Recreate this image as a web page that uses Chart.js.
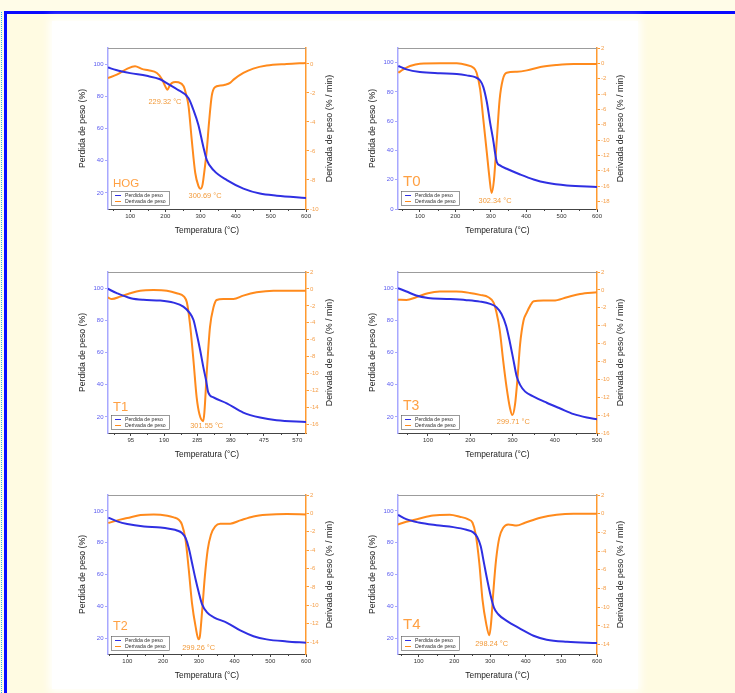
<!DOCTYPE html>
<html>
<head>
<meta charset="utf-8">
<script src="https://cdn.jsdelivr.net/npm/chart.js@4.4.1/dist/chart.umd.min.js"></script>
<style>
  body { margin: 0; width: 735px; height: 693px; overflow: hidden; position: relative; background: #fffce8; }
  .puntos { position: absolute; left: 1px; top: 12px; bottom: 0; border-left: 1.5px dotted #2fb8f0; }
  .marco { position: absolute; left: 4px; top: 11px; width: 800px; height: 720px; border-top: 3px solid #0a0aff; border-left: 3px solid #0a0aff; background: #fffbe2; }
  .hoja { position: absolute; left: 52px; top: 21px; width: 586px; height: 668px; background: #fff; box-shadow: 0 0 8px 3px #fff; }
  .panel { position: absolute; }
  .panel canvas { display: block; }
</style>
</head>
<body>
<div class="puntos"></div>
<div class="marco"></div>
<div class="hoja"></div>
<div class="panel" style="left:62px;top:40px"><canvas id="g-hog" width="280" height="205"></canvas></div>
<div class="panel" style="left:352px;top:40px"><canvas id="g-t0" width="280" height="205"></canvas></div>
<div class="panel" style="left:62px;top:264px"><canvas id="g-t1" width="280" height="205"></canvas></div>
<div class="panel" style="left:352px;top:264px"><canvas id="g-t3" width="280" height="205"></canvas></div>
<div class="panel" style="left:62px;top:487px"><canvas id="g-t2" width="280" height="203"></canvas></div>
<div class="panel" style="left:352px;top:487px"><canvas id="g-t4" width="280" height="203"></canvas></div>
<script>
// Curvas TGA (perdida de peso, %) y DTG (derivada, %/min) de cada muestra
const hogMasaT = [37, 60, 100, 147, 185, 204, 233, 266, 280, 294, 308, 318, 337, 375, 422, 469, 517, 600];
const hogMasa  = [97.9, 96.3, 94.4, 92.7, 90.6, 88.2, 84.4, 78.8, 71.5, 62.2, 48.7, 40.4, 34.1, 27.9, 22.7, 19.6, 18.3, 16.9];
const hogDtgT  = [37, 62, 91, 114, 133, 152, 176, 190, 198, 206, 214, 223, 229.32, 237, 252, 258, 266, 275, 285, 294, 300.69, 306, 310, 318, 324, 332, 341, 356, 370, 384, 394, 422, 450, 488, 545, 600];
const hogDtg   = [-0.97, -0.74, -0.34, -0.16, -0.34, -0.44, -0.62, -1.03, -1.45, -1.77, -1.43, -1.26, -1.24, -1.26, -1.54, -2.0, -2.9, -5.2, -7.5, -8.4, -8.6, -8.3, -7.6, -5.9, -4.1, -2.2, -1.6, -1.49, -1.43, -1.31, -1.08, -0.62, -0.32, -0.11, 0, 0.07];

const t0MasaT = [39, 62, 100, 157, 204, 232, 256, 270, 279, 289, 298, 308, 312, 317, 326, 345, 383, 421, 458, 515, 600];
const t0Masa  = [97.7, 95.4, 93.6, 92.7, 92.2, 91.3, 90.1, 87.8, 83.3, 72.9, 59.2, 45.4, 38.5, 32.1, 29.8, 27.5, 23.6, 20.2, 17.9, 16.1, 15.1];
const t0DtgT  = [39, 53, 72, 100, 157, 204, 232, 251, 260, 270, 279, 289, 296, 302.34, 309, 317, 325, 334, 345, 374, 402, 440, 487, 534, 600];
const t0Dtg   = [-1.23, -0.79, -0.35, -0.04, 0, 0, -0.22, -0.57, -1.23, -3.41, -7.35, -11.7, -14.8, -16.9, -15.2, -10, -4.73, -2.1, -1.23, -1.09, -0.92, -0.48, -0.22, -0.09, -0.09];

const t1MasaT = [29, 55, 95, 131, 179, 217, 245, 264, 274, 283, 293, 302, 310, 316, 331, 369, 416, 464, 511, 595];
const t1Masa  = [99.6, 96.9, 93.7, 92.7, 92.3, 91, 88.5, 84.3, 80.2, 71.8, 61.4, 50.9, 42.6, 35.2, 32.1, 28.4, 22.7, 19.6, 17.9, 16.9];
const t1DtgT  = [29, 41, 65, 93, 122, 160, 198, 226, 247, 255, 264, 274, 283, 291, 301.55, 305, 312, 321, 331, 340, 359, 388, 416, 454, 502, 595];
const t1Dtg   = [-0.99, -1.19, -0.91, -0.51, -0.2, -0.12, -0.2, -0.51, -0.91, -1.58, -4.15, -8.5, -12.8, -14.8, -15.6, -14.6, -9.7, -4.5, -2.17, -1.3, -1.19, -1.19, -0.79, -0.4, -0.2, -0.2];

const t3MasaT = [29, 49, 72, 100, 144, 191, 223, 247, 262, 274, 285, 294, 302, 310, 318, 330, 350, 381, 413, 445, 476, 500];
const t3Masa  = [100, 97.9, 95.4, 93.9, 93.3, 92.5, 91.6, 90.2, 88.1, 83.9, 76.5, 66.1, 55.6, 45.1, 39.9, 35.7, 32.6, 28.8, 25.2, 21.7, 19.6, 18.5];
const t3DtgT  = [29, 49, 72, 100, 128, 167, 199, 223, 243, 255, 262, 270, 278, 286, 294, 299.71, 306, 312, 318, 326, 334, 342, 350, 373, 397, 429, 460, 500];
const t3Dtg   = [-1.09, -1.12, -0.82, -0.37, -0.19, -0.19, -0.34, -0.56, -0.82, -1.39, -2.51, -4.57, -7.94, -10.9, -13.2, -14, -12.8, -9.8, -6.07, -3.45, -2.51, -1.76, -1.27, -1.2, -1.2, -0.82, -0.45, -0.26];

const t2MasaT = [47, 72, 100, 147, 193, 221, 239, 253, 263, 272, 281, 291, 300, 309, 323, 342, 379, 416, 453, 490, 546, 600];
const t2Masa  = [95.8, 93.4, 91.7, 90.2, 89.6, 88.6, 87.7, 86.1, 83, 76.7, 67.4, 57, 48.7, 41.4, 36.2, 33.1, 29.6, 24.8, 21.2, 19.2, 17.9, 17.1];
const t2DtgT  = [47, 72, 100, 137, 174, 212, 230, 244, 253, 263, 272, 281, 291, 299.26, 303, 309, 317, 325, 334, 346, 360, 388, 416, 453, 490, 546, 600];
const t2Dtg   = [-1.05, -0.76, -0.51, -0.18, -0.11, -0.25, -0.44, -0.69, -1.23, -2.87, -6.13, -9.76, -12.3, -13.7, -13.4, -10.8, -6.86, -3.95, -2.32, -1.41, -1.12, -1.12, -0.76, -0.33, -0.15, -0.07, -0.11];

const t4MasaT = [42, 65, 100, 150, 197, 234, 253, 264, 274, 283, 292, 302, 311, 323, 347, 384, 422, 459, 516, 600];
const t4Masa  = [97.5, 94.8, 92.7, 91, 89.8, 88.1, 86.5, 83.6, 77.7, 67.3, 56.9, 46.5, 39.2, 35, 30.8, 26, 21.5, 19, 17.7, 16.9];
const t4DtgT  = [42, 65, 100, 140, 187, 215, 239, 251, 260, 270, 279, 289, 298.24, 303, 309, 317, 326, 337, 351, 375, 398, 441, 487, 534, 600];
const t4Dtg   = [-1.15, -0.86, -0.54, -0.18, -0.11, -0.32, -0.61, -0.97, -2.23, -5.28, -9.22, -11.7, -13, -11.7, -8.5, -4.92, -2.58, -1.51, -1.15, -1.26, -0.97, -0.43, -0.11, 0, 0];

// Marcas de los ejes
const ticksT100 = [100, 200, 300, 400, 500, 600];
const ticksT95  = [95, 190, 285, 380, 475, 570];
const ticksT3   = [100, 200, 300, 400, 500];
const ticksMasa = [20, 40, 60, 80, 100];
const ticksMasa0 = [0, 20, 40, 60, 80, 100];
const ticksHog  = [0, -2, -4, -6, -8, -10];
const ticksT0   = [2, 0, -2, -4, -6, -8, -10, -12, -14, -16, -18];
const ticksT1   = [2, 0, -2, -4, -6, -8, -10, -12, -14, -16];
const ticksT2   = [2, 0, -2, -4, -6, -8, -10, -12, -14];

const AZUL = '#2f2fe2';
const NARANJA = '#ff8a1c';
const FUENTE = '"Liberation Sans", Arial, sans-serif';
Chart.defaults.font.family = FUENTE;

const zip = (xs, ys) => xs.map((x, i) => ({ x, y: ys[i] }));
const fijarTicks = vals => axis => { axis.ticks = vals.map(v => ({ value: v })); };

// Marco superior, ticks menores, títulos, leyenda y etiquetas de pico
function adornos(m) {
  return {
    id: 'adornos',
    afterDraw(chart) {
      const { ctx, chartArea: a, scales } = chart;
      ctx.save();
      ctx.strokeStyle = '#9c9c9c';
      ctx.lineWidth = 1;
      ctx.beginPath(); ctx.moveTo(a.left, a.top + 0.5); ctx.lineTo(a.right, a.top + 0.5); ctx.stroke();

      ctx.strokeStyle = '#444';
      m.xTicks.forEach((v, i) => {
        const paso = i > 0 ? v - m.xTicks[i - 1] : m.xTicks[1] - v;
        [v - paso / 2, v + paso / 2].forEach(w => {
          if (w < scales.x.min || w > scales.x.max) return;
          const px = Math.round(scales.x.getPixelForValue(w)) + 0.5;
          ctx.beginPath(); ctx.moveTo(px, a.bottom); ctx.lineTo(px, a.bottom + 2); ctx.stroke();
        });
      });

      ctx.fillStyle = '#222';
      ctx.textAlign = 'center';
      ctx.textBaseline = 'middle';
      ctx.font = '8.4px ' + FUENTE;
      ctx.fillText('Temperatura (°C)', (a.left + a.right) / 2, a.bottom + 21.5);
      const midY = (a.top + a.bottom) / 2;
      [[a.left - 25, 'Perdida de peso (%)', 8.7], [a.right + 24, 'Derivada de peso (% / min)', 8.9]].forEach(([x, txt, tam]) => {
        ctx.save();
        ctx.font = tam + 'px ' + FUENTE;
        ctx.translate(x, midY); ctx.rotate(-Math.PI / 2); ctx.fillText(txt, 0, 0);
        ctx.restore();
      });

      // leyenda
      const lx = a.left + 3, ly = a.bottom - 18;
      ctx.strokeStyle = '#555'; ctx.lineWidth = 0.6;
      ctx.strokeRect(lx + 0.5, ly + 0.5, 58, 14);
      ctx.font = '5.2px ' + FUENTE;
      ctx.textAlign = 'left';
      [[AZUL, 'Perdida de peso'], [NARANJA, 'Derivada de peso']].forEach(([c, txt], i) => {
        const y = ly + 4.5 + i * 6;
        ctx.strokeStyle = c; ctx.lineWidth = 1;
        ctx.beginPath(); ctx.moveTo(lx + 4, y); ctx.lineTo(lx + 10, y); ctx.stroke();
        ctx.fillStyle = '#333';
        ctx.fillText(txt, lx + 14, y);
      });

      // nombre de la muestra
      ctx.fillStyle = '#ffa043';
      ctx.font = m.nombreTam + 'px ' + FUENTE;
      ctx.fillText(m.nombre, a.left + 5, a.bottom - m.nombreAlto);

      // temperaturas de pico
      ctx.fillStyle = '#f29a3a';
      ctx.font = '7.4px ' + FUENTE;
      ctx.textAlign = 'center';
      m.picos.forEach(([txt, x, y]) => {
        ctx.fillText(txt, scales.x.getPixelForValue(x), scales.y1.getPixelForValue(y));
      });
      ctx.restore();
    }
  };
}

function grafico(id, m) {
  new Chart(document.getElementById(id), {
    type: 'line',
    data: {
      datasets: [
        { label: 'Perdida de peso', data: zip(m.masaT, m.masa), yAxisID: 'y', borderColor: AZUL },
        { label: 'Derivada de peso', data: zip(m.dtgT, m.dtg), yAxisID: 'y1', borderColor: NARANJA }
      ]
    },
    options: {
      responsive: false,
      animation: false,
      layout: { padding: { top: 8 } },
      plugins: { legend: { display: false }, tooltip: { enabled: false } },
      elements: {
        point: { radius: 0 },
        line: { borderWidth: 2, cubicInterpolationMode: 'monotone', fill: false }
      },
      scales: {
        x: {
          type: 'linear', min: m.xMin, max: m.xMax,
          afterBuildTicks: fijarTicks(m.xTicks),
          afterFit: s => { s.height = 36; },
          ticks: { color: '#333', font: { size: 6 }, padding: 1, maxRotation: 0, autoSkip: false },
          grid: { drawOnChartArea: false, tickLength: 3, color: '#444' },
          border: { color: '#444', width: 1 }
        },
        y: {
          position: 'left', min: m.yMin, max: 110,
          afterBuildTicks: fijarTicks(m.yTicks),
          afterFit: s => { s.width = 46; },
          ticks: { color: '#5a5af0', font: { size: 6 }, padding: 1.5 },
          grid: { drawOnChartArea: false, tickLength: 3, color: '#a8a8ff' },
          border: { color: '#a8a8ff', width: 1.5 }
        },
        y1: {
          position: 'right', min: m.dMin, max: m.dMax,
          afterBuildTicks: fijarTicks(m.dTicks),
          afterFit: s => { s.width = m.derAncho; },
          ticks: { color: '#f5a04c', font: { size: 6 }, padding: 1 },
          grid: { drawOnChartArea: false, tickLength: 3, color: '#ff9a30' },
          border: { color: '#ff9a30', width: 1.5 }
        }
      }
    },
    plugins: [adornos(m)]
  });
}

grafico('g-hog', {
  masaT: hogMasaT, masa: hogMasa, dtgT: hogDtgT, dtg: hogDtg,
  xMin: 37, xMax: 600, xTicks: ticksT100, yMin: 10, yTicks: ticksMasa,
  dMin: -10, dMax: 1.1, dTicks: ticksHog, derAncho: 36,
  nombre: 'HOG', nombreTam: 11.5, nombreAlto: 25,
  picos: [['229.32 °C', 199, -2.6], ['300.69 °C', 313, -9.1]]
});
grafico('g-t0', {
  masaT: t0MasaT, masa: t0Masa, dtgT: t0DtgT, dtg: t0Dtg,
  xMin: 38, xMax: 600, xTicks: ticksT100, yMin: 0, yTicks: ticksMasa0,
  dMin: -19, dMax: 2, dTicks: ticksT0, derAncho: 35,
  nombre: 'T0', nombreTam: 15, nombreAlto: 27,
  picos: [['302.34 °C', 312, -17.9]]
});
grafico('g-t1', {
  masaT: t1MasaT, masa: t1Masa, dtgT: t1DtgT, dtg: t1Dtg,
  xMin: 30, xMax: 595, xTicks: ticksT95, yMin: 10, yTicks: ticksMasa,
  dMin: -17, dMax: 2, dTicks: ticksT1, derAncho: 36,
  nombre: 'T1', nombreTam: 13, nombreAlto: 26,
  picos: [['301.55 °C', 311.7, -16.2]]
});
grafico('g-t3', {
  masaT: t3MasaT, masa: t3Masa, dtgT: t3DtgT, dtg: t3Dtg,
  xMin: 29, xMax: 500, xTicks: ticksT3, yMin: 10, yTicks: ticksMasa,
  dMin: -16, dMax: 2, dTicks: ticksT1, derAncho: 35,
  nombre: 'T3', nombreTam: 14, nombreAlto: 27,
  picos: [['299.71 °C', 302, -14.8]]
});
grafico('g-t2', {
  masaT: t2MasaT, masa: t2Masa, dtgT: t2DtgT, dtg: t2Dtg,
  xMin: 46, xMax: 600, xTicks: ticksT100, yMin: 10, yTicks: ticksMasa,
  dMin: -15.3, dMax: 2, dTicks: ticksT2, derAncho: 36,
  nombre: 'T2', nombreTam: 12.5, nombreAlto: 27,
  picos: [['299.26 °C', 299.6, -14.65]]
});
grafico('g-t4', {
  masaT: t4MasaT, masa: t4Masa, dtgT: t4DtgT, dtg: t4Dtg,
  xMin: 42, xMax: 600, xTicks: ticksT100, yMin: 10, yTicks: ticksMasa,
  dMin: -15, dMax: 2, dTicks: ticksT2, derAncho: 35,
  nombre: 'T4', nombreTam: 15, nombreAlto: 29,
  picos: [['298.24 °C', 304.6, -13.9]]
});
</script>
</body>
</html>
